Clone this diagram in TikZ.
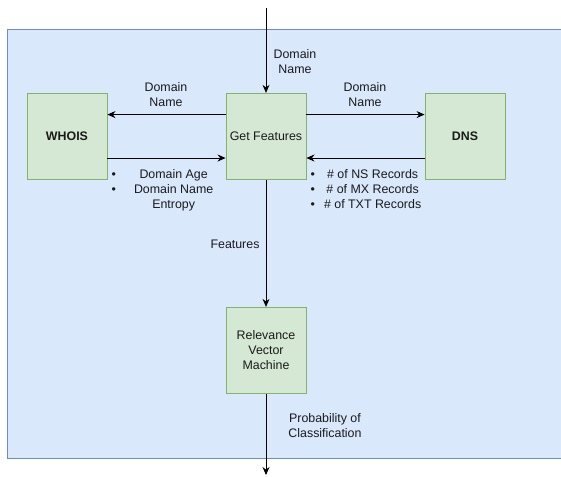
\documentclass[tikz,border=0pt]{standalone}
\usepackage{fontspec}
\setmainfont{Liberation Sans}
\usetikzlibrary{arrows.meta,positioning,calc}

\definecolor{bgblue}{HTML}{DAE8FC}
\definecolor{bgline}{HTML}{6C8EBF}
\definecolor{boxgreen}{HTML}{D5E8D4}
\definecolor{boxline}{HTML}{82B366}
\definecolor{txt}{HTML}{1A1A1A}

\tikzset{
  box/.style={draw=boxline,fill=boxgreen,line width=0.9pt,minimum width=80pt,minimum height=86pt,
    align=center,inner sep=2pt,text=txt},
  lbl/.style={align=center,inner sep=0pt,text=txt},
  flow/.style={-{Stealth[length=8pt,width=7pt]},line width=0.8pt}
}

\begin{document}
\begin{tikzpicture}[x=1pt,y=-1pt,font=\fontsize{12.4}{15}\selectfont]
      \useasboundingbox (0,0) rectangle (561,476);
      % container
      \draw[bgline,fill=bgblue,line width=0.8pt] (7,29) rectangle (565,458);
      % boxes
      \node[box] (whois) at (67,136.3) {\textbf{WHOIS}};
      \node[box] (feat) at (266,136.3) {Get Features};
      \node[box] (dns) at (465,136.3) {\textbf{DNS}};
      \node[box] (rvm) at (266,350.3) {Relevance\\Vector\\Machine};
      \coordinate (in) at (266,8);
      \coordinate (out) at (266,475);
      % arrows
      \draw[flow] (in) -- (feat);
      \draw[flow] ($(feat.north west)!0.25!(feat.south west)$) -- (whois.east |- {$(feat.north west)!0.25!(feat.south west)$});
      \draw[flow] ($(whois.north east)!0.75!(whois.south east)$) -- (feat.west |- {$(whois.north east)!0.75!(whois.south east)$});
      \draw[flow] ($(feat.north east)!0.25!(feat.south east)$) -- (dns.west |- {$(feat.north east)!0.25!(feat.south east)$});
      \draw[flow] ($(dns.north west)!0.75!(dns.south west)$) -- (feat.east |- {$(dns.north west)!0.75!(dns.south west)$});
      \draw[flow] (feat) -- (rvm);
      \draw[flow] (rvm) -- (out);
      % labels
      \node[lbl] (dnin) at (295,61.5) {Domain\\Name};
      \node[lbl] (dnw) at (166,94.5) {Domain\\Name};
      \node[lbl] (dnd) at (365,94.5) {Domain\\Name};
      \node[lbl,anchor=north west] (wf) at (111.5,167.5) {\begin{tabular}{@{}c@{\hspace{18pt}}c@{}}
        \textbullet & Domain Age\\ \textbullet & Domain Name\\ & Entropy\end{tabular}};
      \node[lbl,anchor=north west] (df) at (310.5,167.5) {\begin{tabular}{@{}c@{\hspace{9pt}}c@{}}
        \textbullet & \# of NS Records\\ \textbullet & \# of MX Records\\ \textbullet & \# of TXT Records\end{tabular}};
      \node[lbl] (fl) at (235,244) {Features};
      \node[lbl] (pl) at (325,425.5) {Probability of\\Classification};
    \end{tikzpicture}
\end{document}
